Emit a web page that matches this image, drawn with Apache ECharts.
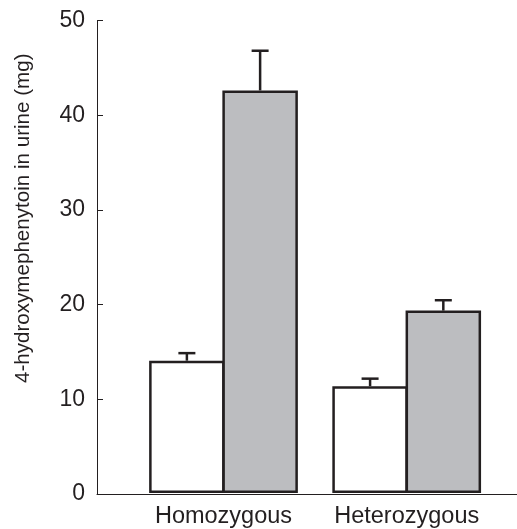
<!DOCTYPE html>
<html>
<head>
<meta charset="utf-8">
<script src="https://cdn.jsdelivr.net/npm/echarts@6/dist/echarts.min.js"></script>
<style>html,body{margin:0;padding:0;background:#fff;}#c{width:517px;height:529px;}</style>
</head>
<body>
<div id="c"></div>
<script>
var categories = ['Homozygous', 'Heterozygous'];
var whiteValues = [14.0, 11.3];
var whiteErrors = [0.8, 0.8];
var grayValues = [42.6, 19.3];
var grayErrors = [4.2, 1.1];
var yMin = 0, yMax = 50, yInterval = 10;
var yTitle = '4-hydroxymephenytoin in urine (mg)';

var INK = '#231f20';
var FONT = "'Liberation Sans', Arial, Helvetica, sans-serif";
var BAR_W = 75.5;
var BAR_GAP = -0.03;
var CAP_W = 17;

function errRender(sign) {
  return function (params, api) {
    var idx = api.value(0);
    var base = api.value(1);
    var top = base + api.value(2);
    var p0 = api.coord([idx, base]);
    var p1 = api.coord([idx, top]);
    var x = p0[0] + sign * BAR_W * (1 + BAR_GAP) / 2;
    return {
      type: 'group',
      children: [
        {type: 'line', shape: {x1: x, y1: p0[1], x2: x, y2: p1[1]}, style: {stroke: INK, lineWidth: 2.5}},
        {type: 'line', shape: {x1: x - CAP_W / 2, y1: p1[1], x2: x + CAP_W / 2, y2: p1[1]}, style: {stroke: INK, lineWidth: 2.5}}
      ]
    };
  };
}

var chart = echarts.init(document.getElementById('c'), null, {renderer: 'canvas'});
chart.setOption({
  animation: false,
  backgroundColor: '#fff',
  textStyle: {fontFamily: FONT, color: INK},
  grid: [
    {left: 97, right: 0, top: 20.5, bottom: 35},
    {left: 131.9, right: 18.7, top: 20.5, bottom: 35}
  ],
  xAxis: [
    {gridIndex: 0, type: 'value', min: 0, max: 1,
     axisLine: {show: true, lineStyle: {color: INK, width: 1}},
     axisTick: {show: false}, axisLabel: {show: false}, splitLine: {show: false}},
    {gridIndex: 1, type: 'category', data: categories,
     axisLine: {show: false}, axisTick: {show: false},
     axisLabel: {fontSize: 23.5, color: INK, fontFamily: FONT, margin: 12, interval: 0, hideOverlap: false},
     splitLine: {show: false}}
  ],
  yAxis: [
    {gridIndex: 0, type: 'value', min: yMin, max: yMax, interval: yInterval,
     name: yTitle, nameLocation: 'middle', nameRotate: 90, nameGap: 63,
     nameTextStyle: {fontSize: 20.6, color: INK, fontFamily: FONT, padding: [0, 0, 0, 78]},
     axisLine: {show: true, lineStyle: {color: INK, width: 1}},
     axisTick: {show: true, inside: true, length: 6, lineStyle: {color: INK, width: 1}},
     axisLabel: {fontSize: 23, color: INK, fontFamily: FONT, margin: 12},
     splitLine: {show: false}},
    {gridIndex: 1, type: 'value', min: yMin, max: yMax, interval: yInterval, show: false}
  ],
  series: [
    {type: 'bar', xAxisIndex: 1, yAxisIndex: 1, data: whiteValues, barWidth: BAR_W, barGap: (BAR_GAP * 100) + '%',
     itemStyle: {color: '#ffffff', borderColor: INK, borderWidth: 2.5}},
    {type: 'bar', xAxisIndex: 1, yAxisIndex: 1, data: grayValues, barWidth: BAR_W, barGap: (BAR_GAP * 100) + '%',
     itemStyle: {color: '#bcbdc0', borderColor: INK, borderWidth: 2.5}},
    {type: 'custom', xAxisIndex: 1, yAxisIndex: 1, renderItem: errRender(-1), z: 3,
     data: categories.map(function (c, i) { return [i, whiteValues[i], whiteErrors[i]]; })},
    {type: 'custom', xAxisIndex: 1, yAxisIndex: 1, renderItem: errRender(1), z: 3,
     data: categories.map(function (c, i) { return [i, grayValues[i], grayErrors[i]]; })}
  ]
});
</script>
</body>
</html>
